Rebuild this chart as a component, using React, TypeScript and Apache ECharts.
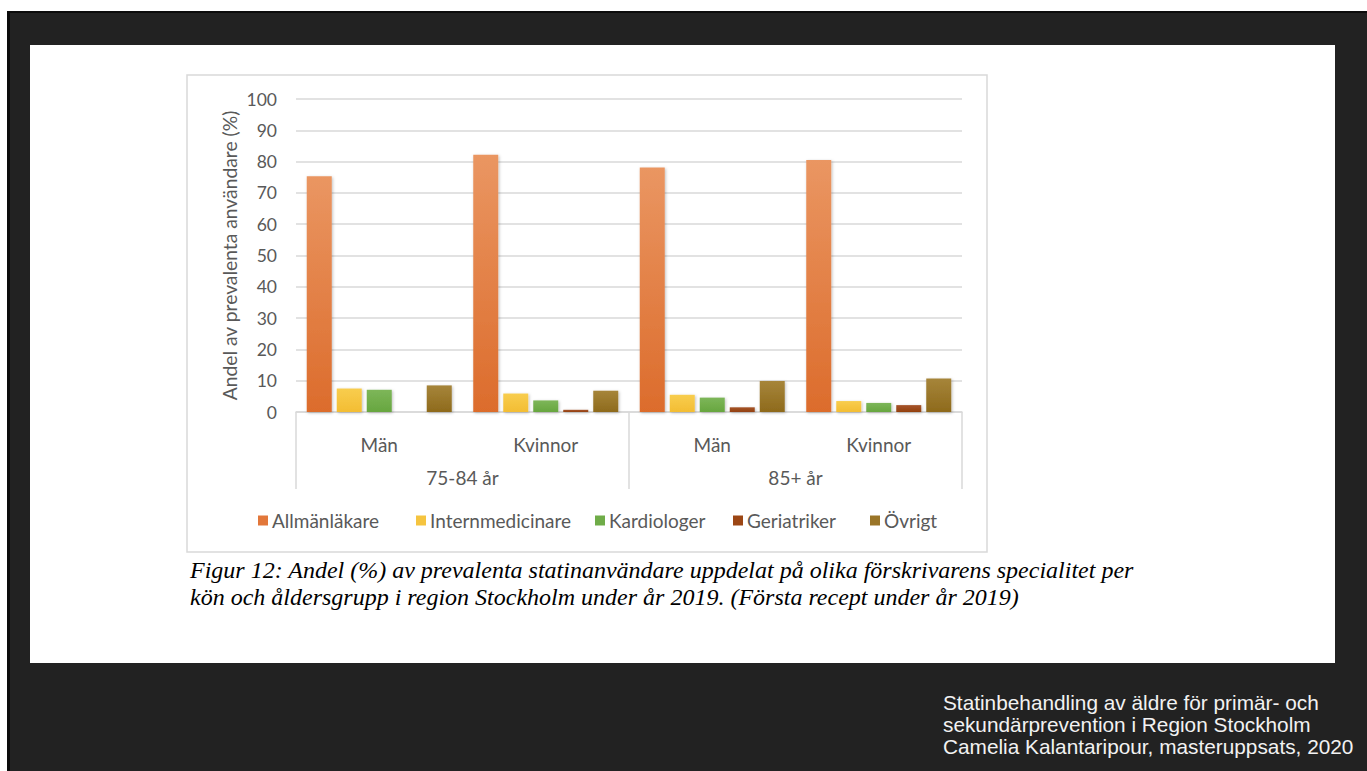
import React, { useEffect, useRef } from "react";
import * as echarts from "echarts";

const genderCategories = ["Män", "Kvinnor", "Män", "Kvinnor"];
const ageGroups = ["75-84 år", "85+ år"];
const seriesNames = ["Allmänläkare", "Internmedicinare", "Kardiologer", "Geriatriker", "Övrigt"];
const allmanlakare = [75.3, 82.2, 78.1, 80.5];
const internmedicinare = [7.5, 5.9, 5.5, 3.5];
const kardiologer = [7.1, 3.7, 4.6, 2.9];
const geriatriker = [0, 0.7, 1.5, 2.2];
const ovrigt = [8.5, 6.8, 9.9, 10.7];
const yTicks = { min: 0, max: 100, interval: 10 };
const yAxisTitle = "Andel av prevalenta användare (%)";
const captionLines = [
  "Figur 12: Andel (%) av prevalenta statinanvändare uppdelat på olika förskrivarens specialitet per",
  "kön och åldersgrupp i region Stockholm under år 2019. (Första recept under år 2019)",
];
const footerLines = [
  "Statinbehandling av äldre för primär- och",
  "sekundärprevention i Region Stockholm",
  "Camelia Kalantaripour, masteruppsats, 2020",
];

const seriesValues = [allmanlakare, internmedicinare, kardiologer, geriatriker, ovrigt];
const colorsTop = ["#EA9662", "#F8CD4E", "#7DB659", "#A5542A", "#A6853A"];
const colorsBottom = ["#DC6C2C", "#F3BD33", "#67A63F", "#93400F", "#8E6A1C"];
const legendColors = ["#E2773A", "#F5C43F", "#6FAC48", "#9C4614", "#9A7528"];
const legendLeft = [258, 416, 595, 733, 870];

export default function App() {
  const ref = useRef<HTMLDivElement>(null);
  useEffect(() => {
    if (!ref.current) return;
    const chart = echarts.init(ref.current, undefined, { renderer: "svg" });
    const font = "Lato";
    const gray = "#595959";
    const series: any[] = seriesValues.map((vals, i) => ({
      name: seriesNames[i],
      type: "bar",
      xAxisIndex: 0,
      data: vals,
      barWidth: 25,
      barGap: "20%",
      itemStyle: {
        color: new echarts.graphic.LinearGradient(0, 0, 0, 1, [
          { offset: 0, color: colorsTop[i] },
          { offset: 1, color: colorsBottom[i] },
        ]),
        shadowBlur: 3,
        shadowColor: "rgba(0,0,0,0.25)",
        shadowOffsetX: 1,
        shadowOffsetY: 1,
      },
    }));
    const legends = seriesNames.map((n, i) => ({
      data: [{ name: n, itemStyle: { color: legendColors[i] } }],
      icon: "rect",
      itemWidth: 10,
      itemHeight: 10,
      left: legendLeft[i],
      top: 511,
      padding: 0,
      textStyle: { fontFamily: font, fontSize: 19, color: gray, padding: [0, 0, 0, -1] },
    }));
    chart.setOption({
      animation: false,
      backgroundColor: "transparent",
      grid: { left: 296, right: 405, top: 99, height: 313, containLabel: false },
      legend: legends,
      xAxis: [
        {
          type: "category",
          data: genderCategories,
          axisLine: { show: true, lineStyle: { color: "#d9d9d9", width: 1.5 } },
          axisTick: { show: false },
          axisLabel: { fontFamily: font, fontSize: 19, color: gray, margin: 23 },
        },
        {
          type: "category",
          data: ageGroups,
          position: "bottom",
          axisLine: { show: false },
          axisTick: { show: true, length: 77, lineStyle: { color: "#d9d9d9", width: 1.5 } },
          axisLabel: { fontFamily: font, fontSize: 19, color: gray, margin: 56 },
        },
      ],
      yAxis: {
        type: "value",
        min: yTicks.min,
        max: yTicks.max,
        interval: yTicks.interval,
        axisLine: { show: false },
        axisTick: { show: false },
        splitLine: { lineStyle: { color: "#d9d9d9", width: 1.5 } },
        axisLabel: { fontFamily: font, fontSize: 17.5, color: gray, margin: 19 },
        name: yAxisTitle,
        nameLocation: "middle",
        nameRotate: 90,
        nameGap: 57,
        nameTextStyle: { fontFamily: font, fontSize: 19.3, color: gray },
      },
      graphic: [
        {
          type: "rect",
          shape: { x: 187, y: 75, width: 800, height: 477 },
          style: { fill: "none", stroke: "#d9d9d9", lineWidth: 1.5 },
          silent: true,
        },
        ...captionLines.map((t, i) => ({
          type: "text",
          x: 190,
          y: 570 + i * 27,
          style: {
            text: t,
            fontFamily: "Liberation Serif",
            fontStyle: "italic",
            fontSize: 24,
            fill: "#000",
            verticalAlign: "middle",
          },
        })),
        ...footerLines.map((t, i) => ({
          type: "text",
          x: 943,
          y: 702 + i * 22,
          style: {
            text: t,
            fontFamily: "Liberation Sans",
            fontSize: 20.8,
            fill: "#f2f2f2",
            verticalAlign: "middle",
          },
        })),
      ],
      series,
    });
    return () => chart.dispose();
  }, []);

  return (
    <div style={{ position: "fixed", left: 0, top: 0, width: 1367, height: 771, background: "#fff" }}>
      <div style={{ position: "absolute", left: 7, top: 11, width: 1360, height: 760, background: "#0c0c0c" }} />
      <div style={{ position: "absolute", left: 10, top: 13, width: 1357, height: 758, background: "#222222" }} />
      <div style={{ position: "absolute", left: 30, top: 45, width: 1305, height: 618, background: "#ffffff" }} />
      <div ref={ref} style={{ position: "absolute", left: 0, top: 0, width: 1367, height: 771 }} />
    </div>
  );
}
